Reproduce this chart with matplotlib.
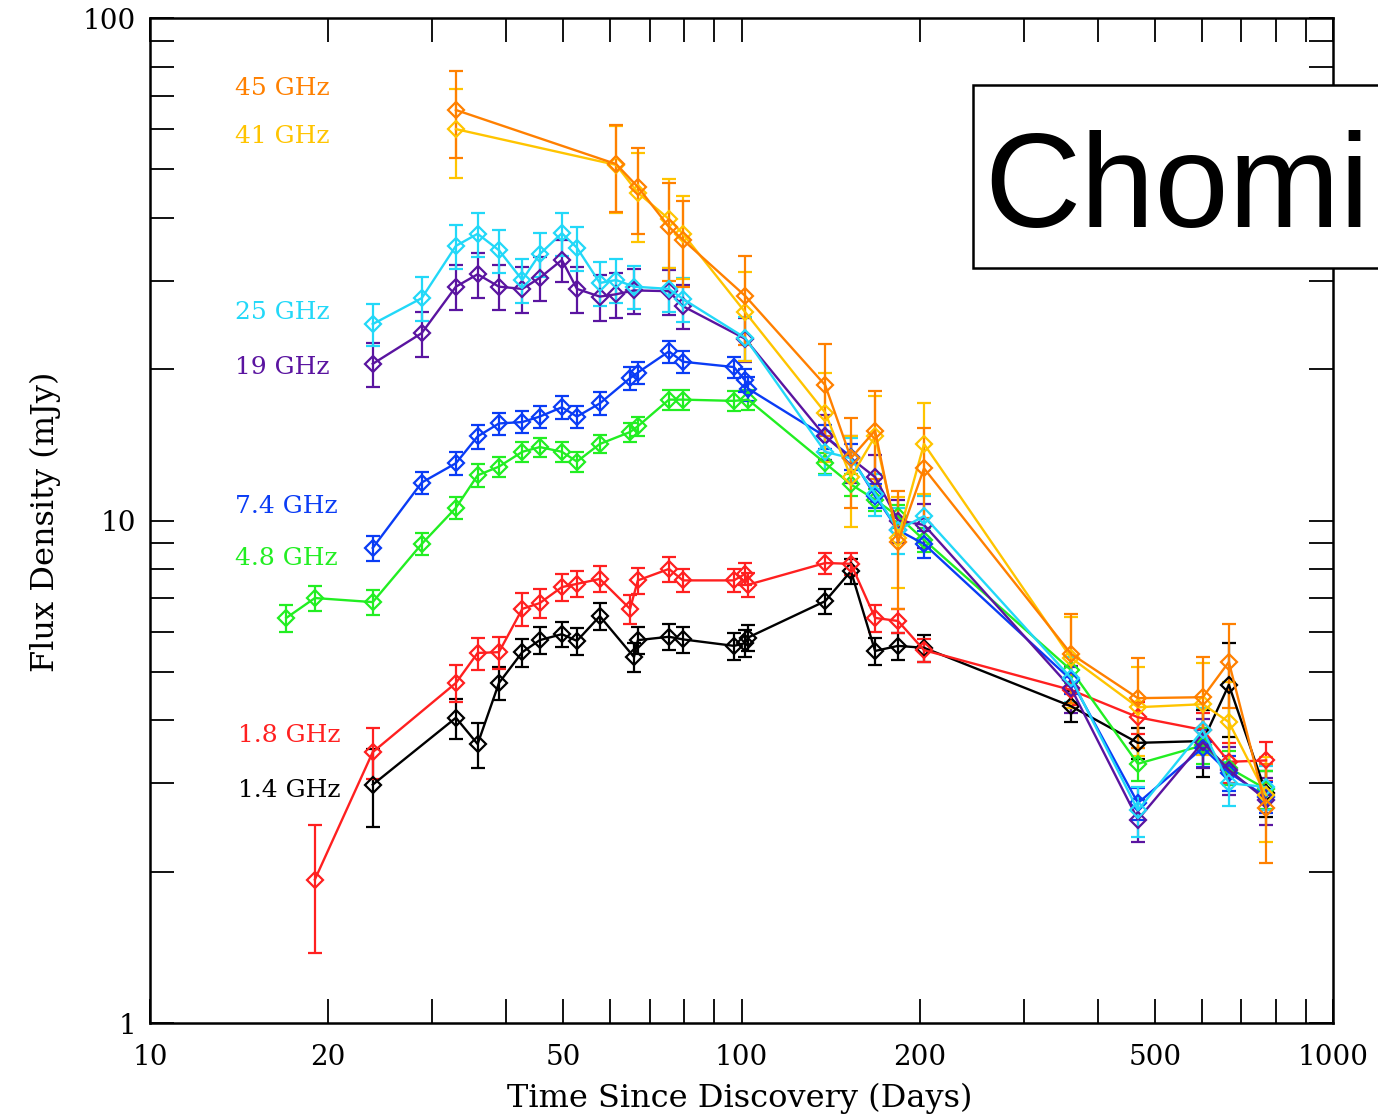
import matplotlib
matplotlib.use('Agg')
import matplotlib.pyplot as plt
from matplotlib.patches import Rectangle

# ---- data (days since discovery, flux density in mJy) ----
days_1p4 = [23.8, 32.9, 35.8, 38.9, 42.6, 45.6, 49.7, 52.7, 57.6, 65.8, 66.8, 75.4, 79.6,
            97.1, 101.4, 102.6, 138.5, 153.1, 168.2, 183.9, 203.5, 360.6, 467.9, 602.6,
            666.7, 770.6]
flux_1p4 = [2.98, 4.05, 3.59, 4.75, 5.47, 5.78, 5.94, 5.76, 6.45, 5.35, 5.78, 5.87, 5.8,
            5.63, 5.7, 5.85, 6.91, 7.93, 5.5, 5.63, 5.58, 4.27, 3.61, 3.64, 4.71, 2.87]
err_1p4 = [0.53, 0.37, 0.37, 0.35, 0.35, 0.35, 0.35, 0.35, 0.4, 0.35, 0.35, 0.35, 0.35,
           0.35, 0.35, 0.35, 0.4, 0.45, 0.35, 0.35, 0.35, 0.3, 0.25, 0.55, 1.0, 0.3]

days_1p8 = [19.0, 23.8, 32.9, 35.8, 38.9, 42.6, 45.6, 49.7, 52.7, 57.6, 64.8, 66.8, 75.4,
            79.6, 97.1, 101.4, 102.6, 138.5, 153.1, 168.2, 183.9, 203.5, 360.6, 467.9,
            602.6, 666.7, 770.6]
flux_1p8 = [1.93, 3.46, 4.75, 5.45, 5.47, 6.67, 6.85, 7.37, 7.48, 7.65, 6.67, 7.6, 8.01,
            7.6, 7.6, 7.83, 7.45, 8.23, 8.2, 6.4, 6.31, 5.52, 4.6, 4.06, 3.83, 3.31, 3.33]
err_1p8 = [0.55, 0.4, 0.4, 0.4, 0.4, 0.5, 0.45, 0.45, 0.45, 0.45, 0.45, 0.45, 0.45,
           0.4, 0.4, 0.4, 0.4, 0.4, 0.4, 0.4, 0.35, 0.3, 0.3, 0.3, 0.3, 0.3, 0.3]

days_4p8 = [17.0, 19.0, 23.8, 28.8, 32.9, 35.8, 38.9, 42.6, 45.6, 49.7, 52.7, 57.6, 64.8,
            66.8, 75.4, 79.6, 97.1, 102.6, 138.5, 153.1, 168.2, 183.9, 203.5, 360.6,
            467.9, 602.6, 666.7, 770.6]
flux_4p8 = [6.4, 7.01, 6.88, 8.98, 10.6, 12.3, 12.8, 13.7, 14.0, 13.7, 13.1, 14.2, 15.0,
            15.4, 17.4, 17.4, 17.3, 17.4, 13.0, 11.8, 11.0, 10.2, 9.15, 5.04, 3.28, 3.57,
            3.22, 2.92]
err_4p8 = [0.4, 0.4, 0.4, 0.45, 0.55, 0.65, 0.6, 0.6, 0.6, 0.6, 0.6, 0.6, 0.65,
           0.7, 0.8, 0.8, 0.8, 0.8, 0.6, 0.6, 0.55, 0.55, 0.5, 0.3, 0.25, 0.3, 0.25, 0.25]

days_7p4 = [23.8, 28.8, 32.9, 35.8, 38.9, 42.6, 45.6, 49.7, 52.7, 57.6, 64.8, 66.8, 75.4,
            79.6, 97.1, 101.4, 102.6, 138.5, 153.1, 168.2, 183.9, 203.5, 360.6, 467.9,
            602.6, 666.7, 770.6]
flux_7p4 = [8.82, 11.9, 13.0, 14.7, 15.6, 15.7, 16.1, 16.8, 16.1, 17.1, 19.2, 19.7, 21.7,
            20.7, 20.2, 19.0, 18.3, 14.7, 13.4, 11.2, 9.57, 8.98, 4.82, 2.74, 3.53, 3.15,
            2.82]
err_7p4 = [0.5, 0.6, 0.7, 0.8, 0.8, 0.8, 0.8, 0.9, 0.8, 0.9, 1.0, 1.0, 1.1,
           1.0, 1.0, 1.0, 1.0, 0.8, 0.8, 0.6, 0.55, 0.55, 0.3, 0.2, 0.3, 0.25, 0.2]

days_19 = [23.8, 28.8, 32.9, 35.8, 38.9, 42.6, 45.6, 49.7, 52.7, 57.6, 61.4, 65.8, 75.4,
           79.6, 101.4, 138.5, 153.1, 168.2, 183.9, 203.5, 360.6, 467.9, 602.6, 666.7,
           770.6]
flux_19 = [20.5, 23.6, 29.2, 30.9, 29.2, 28.9, 30.4, 33.0, 28.9, 27.9, 28.2, 28.7, 28.6,
           26.7, 23.0, 14.7, 13.3, 12.2, 10.0, 9.8, 4.64, 2.54, 3.62, 3.19, 2.78]
err_19 = [2.1, 2.4, 3.0, 3.2, 3.0, 3.0, 3.0, 3.2, 3.0, 2.9, 2.9, 2.9, 2.9,
          2.7, 2.3, 1.5, 1.4, 1.3, 1.0, 1.0, 0.5, 0.25, 0.4, 0.35, 0.3]

days_25 = [23.8, 28.8, 32.9, 35.8, 38.9, 42.6, 45.6, 49.7, 52.7, 57.6, 61.4, 65.8, 75.4,
           79.6, 101.4, 138.5, 153.1, 168.2, 183.9, 203.5, 360.6, 467.9, 602.6, 666.7,
           770.6]
flux_25 = [24.6, 27.7, 35.2, 37.2, 34.5, 30.1, 33.9, 37.3, 34.9, 29.7, 30.1, 29.2, 28.9,
           27.6, 23.1, 13.7, 13.3, 11.3, 9.57, 10.2, 4.86, 2.65, 3.83, 3.0, 2.95]
err_25 = [2.4, 2.8, 3.5, 3.7, 3.4, 3.0, 3.4, 3.7, 3.5, 3.0, 3.0, 2.9, 2.9,
          2.8, 2.3, 1.4, 1.3, 1.1, 1.0, 1.0, 0.5, 0.3, 0.4, 0.3, 0.3]

days_41 = [32.9, 61.4, 66.8, 75.4, 79.6, 101.4, 138.5, 153.1, 168.2, 183.9, 203.5,
           360.6, 467.9, 602.6, 666.7, 770.6]
flux_41 = [60.1, 51.0, 44.9, 39.8, 37.2, 26.0, 16.4, 12.2, 14.7, 9.23, 14.2, 5.33, 4.25,
           4.31, 3.97, 2.84]
err_41 = [12, 10, 9, 8, 7, 5.2, 3.3, 2.5, 3.0, 1.9, 2.9, 1.1, 0.85, 0.9, 0.8, 0.55]

days_45 = [32.9, 61.4, 66.8, 75.4, 79.6, 101.4, 138.5, 153.1, 168.2, 183.9, 203.5,
           360.6, 467.9, 602.6, 666.7, 770.6]
flux_45 = [65.6, 51.2, 46.1, 38.4, 36.2, 28.0, 18.6, 13.3, 15.1, 9.06, 12.7, 5.43, 4.43,
           4.45, 5.23, 2.68]
err_45 = [13, 10, 9, 8.5, 7, 5.6, 3.9, 2.7, 3.0, 2.4, 2.6, 1.1, 0.9, 0.9, 1.0, 0.6]

band_names = ['1.4 GHz', '1.8 GHz', '4.8 GHz', '7.4 GHz', '19 GHz', '25 GHz', '41 GHz', '45 GHz']
band_colors = ['black', '#ff2020', '#22ee22', '#0a3cf5', '#5a14a0', '#22d8f8', '#ffc400', '#ff8000']

x_tick_values = [10, 20, 30, 40, 50, 60, 70, 80, 90, 100, 200, 300, 400, 500, 600, 700,
                 800, 900, 1000]
x_tick_text = ['10', '20', '', '', '50', '', '', '', '', '100', '200', '', '', '500', '',
               '', '', '', '1000']
y_tick_values = [1, 2, 3, 4, 5, 6, 7, 8, 9, 10, 20, 30, 40, 50, 60, 70, 80, 90, 100]
y_tick_text = ['1', '', '', '', '', '', '', '', '', '10', '', '', '', '', '', '', '', '', '100']

bands = [
    (days_1p4, flux_1p4, err_1p4),
    (days_1p8, flux_1p8, err_1p8),
    (days_4p8, flux_4p8, err_4p8),
    (days_7p4, flux_7p4, err_7p4),
    (days_19, flux_19, err_19),
    (days_25, flux_25, err_25),
    (days_41, flux_41, err_41),
    (days_45, flux_45, err_45),
]

# label positions in axes fraction, same order as bands
label_pos = [(0.074, 0.2318), (0.074, 0.2856), (0.072, 0.4620), (0.072, 0.5137),
             (0.072, 0.6527), (0.072, 0.7065), (0.072, 0.8816), (0.072, 0.9303)]

plt.rcParams['font.family'] = ['DejaVu Serif']

fig = plt.figure(figsize=(13.78, 11.18), dpi=100)
ax = fig.add_axes([150 / 1378, 1 - 1023 / 1118, 1183 / 1378, 1005 / 1118])
ax.set_xscale('log')
ax.set_yscale('log')

for (d, f, e), col in zip(bands, band_colors):
    ax.errorbar(d, f, yerr=e, color=col, marker='D', ms=8, mfc='none', mew=1.6,
                lw=1.7, elinewidth=1.6, capsize=4.8, capthick=1.6)

for name, col, (px, py) in zip(band_names, band_colors, label_pos):
    ax.text(px, py, name, color=col, fontsize=18, transform=ax.transAxes,
            ha='left', va='center')

ax.set_xlim(10, 1000)
ax.set_ylim(1, 100)
ax.set_xticks(x_tick_values)
ax.set_xticklabels(x_tick_text)
ax.set_yticks(y_tick_values)
ax.set_yticklabels(y_tick_text)
ax.minorticks_off()
ax.tick_params(which='both', direction='in', top=True, right=True, length=17,
               width=1.3, labelsize=20)
ax.tick_params(axis='x', pad=15)
ax.tick_params(axis='y', pad=10)
for sp in ax.spines.values():
    sp.set_linewidth(1.8)

fig.text(740 / 1378, 1 - 1098 / 1118, 'Time Since Discovery (Days)', fontsize=23,
         ha='center', va='center')
fig.text(45 / 1378, 1 - 522 / 1118, 'Flux Density (mJy)', fontsize=23,
         rotation=90, ha='center', va='center')

# name box partly cut off at the right edge
box = Rectangle((973 / 1378, 1 - 268 / 1118), 0.3, 183 / 1118, transform=fig.transFigure,
                facecolor='white', edgecolor='black', linewidth=1.8, zorder=10)
fig.add_artist(box)
fig.text(984 / 1378, 1 - 227 / 1118, 'Chomi', fontsize=96, family='Liberation Sans',
         ha='left', va='baseline', zorder=11)

fig.savefig('out.png', dpi=100)
